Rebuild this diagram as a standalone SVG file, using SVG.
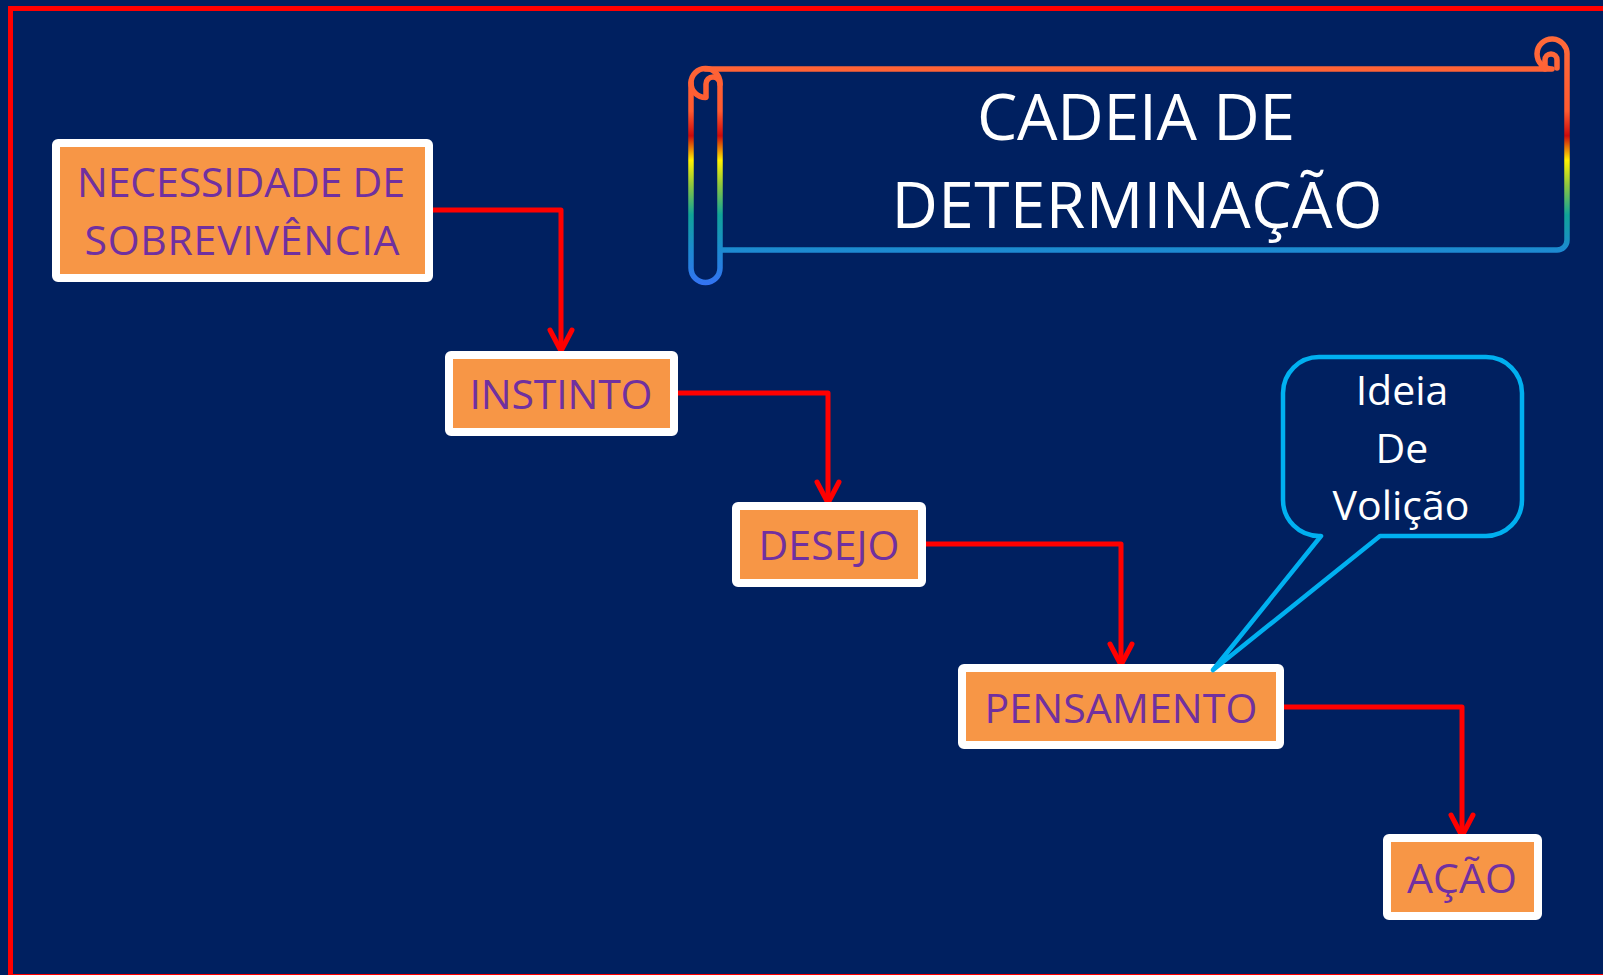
<svg xmlns="http://www.w3.org/2000/svg" width="1603" height="975" viewBox="0 0 1603 975">
<style>
.box{fill:#F79646;stroke:#FFFFFF;stroke-width:8;stroke-linejoin:round}
.lbl{font-family:"Open Sans","Noto Sans","Liberation Sans",sans-serif;font-size:41px;fill:#7030A0;text-anchor:middle}
.wt{font-family:"Open Sans","Noto Sans","Liberation Sans",sans-serif;fill:#FFFFFF;text-anchor:middle}
.con{fill:none;stroke:#FF0000;stroke-width:5;stroke-linejoin:round}
.scroll{fill:none;stroke:url(#rainbow);stroke-width:5.5;stroke-linejoin:round;stroke-linecap:round}
</style>
<defs>
<linearGradient id="rainbow" gradientUnits="userSpaceOnUse" x1="0" y1="37" x2="0" y2="284">
<stop offset="0" stop-color="#FF6A3A"/>
<stop offset="0.3" stop-color="#FF5A30"/>
<stop offset="0.4" stop-color="#CC0A0A"/>
<stop offset="0.5" stop-color="#FFF200"/>
<stop offset="0.6" stop-color="#8CC63F"/>
<stop offset="0.72" stop-color="#10A498"/>
<stop offset="0.86" stop-color="#1C8BD0"/>
<stop offset="1" stop-color="#3373F2"/>
</linearGradient>
<marker id="arr" markerUnits="userSpaceOnUse" orient="auto" refX="0" refY="0" markerWidth="30" markerHeight="30" overflow="visible">
<path d="M -21 -11 L 0 0 L -21 11" fill="none" stroke="#FF0000" stroke-width="5" stroke-linecap="round" stroke-linejoin="round"/>
</marker>
</defs>
<rect x="0" y="0" width="1603" height="975" fill="#002060"/>
<rect x="10.5" y="8.5" width="1600" height="968" fill="none" stroke="#FF0000" stroke-width="5"/>

<g id="title">
<path class="scroll" d="M 705.5 69 H 1552 M 1552 69 A 15 15 0 1 1 1567 55 V 240 A 10 10 0 0 1 1557 250 H 721"/>
<path class="scroll" d="M 1545 69 V 60 A 6 6 0 0 1 1557 60 V 68"/>
<path class="scroll" d="M 691 83 A 14.5 14.5 0 0 1 720 83 V 268 A 14.5 14.5 0 0 1 691 268 Z"/>
<path class="scroll" d="M 706 97 V 84 A 7 7 0 0 1 720 84"/>
<path class="scroll" d="M 691 83 A 14.5 14.5 0 0 0 705.5 97.5"/>
<text class="wt" x="1136" y="140" font-size="64" textLength="318">CADEIA DE</text>
<text class="wt" x="1137" y="228" font-size="64" textLength="491">DETERMINAÇÃO</text>
</g>

<g id="connectors">
<path class="con" d="M 433 210 H 561 V 351" marker-end="url(#arr)"/>
<path class="con" d="M 678 393 H 828 V 503" marker-end="url(#arr)"/>
<path class="con" d="M 926 544 H 1121 V 665" marker-end="url(#arr)"/>
<path class="con" d="M 1284 707 H 1462 V 836" marker-end="url(#arr)"/>
</g>

<g id="necessidade">
<rect class="box" x="56" y="143" width="373" height="135" rx="2"/>
<text class="lbl" x="241" y="197" textLength="328">NECESSIDADE DE</text>
<text class="lbl" x="242" y="255" textLength="315">SOBREVIVÊNCIA</text>
</g>

<g id="instinto">
<rect class="box" x="449" y="355" width="225" height="77" rx="2"/>
<text class="lbl" x="561" y="409" textLength="183">INSTINTO</text>
</g>

<g id="desejo">
<rect class="box" x="736" y="506" width="186" height="77" rx="2"/>
<text class="lbl" x="829" y="560" textLength="141">DESEJO</text>
</g>

<g id="pensamento">
<rect class="box" x="962" y="668" width="318" height="77" rx="2"/>
<text class="lbl" x="1121" y="723" textLength="273">PENSAMENTO</text>
</g>

<g id="acao">
<rect class="box" x="1387" y="838" width="151" height="78" rx="2"/>
<text class="lbl" x="1462" y="893" textLength="110">AÇÃO</text>
</g>

<g id="volicao">
<path d="M 1319 357 H 1486 A 36 36 0 0 1 1522 393 V 500 A 36 36 0 0 1 1486 536 H 1380 L 1213 670 L 1321 536 H 1319 A 36 36 0 0 1 1283 500 V 393 A 36 36 0 0 1 1319 357 Z" fill="none" stroke="#00B0F0" stroke-width="4.5" stroke-linejoin="round"/>
<text class="wt" x="1402" y="405" font-size="41">Ideia</text>
<text class="wt" x="1402" y="463" font-size="41">De</text>
<text class="wt" x="1401" y="520" font-size="41">Volição</text>
</g>
</svg>
